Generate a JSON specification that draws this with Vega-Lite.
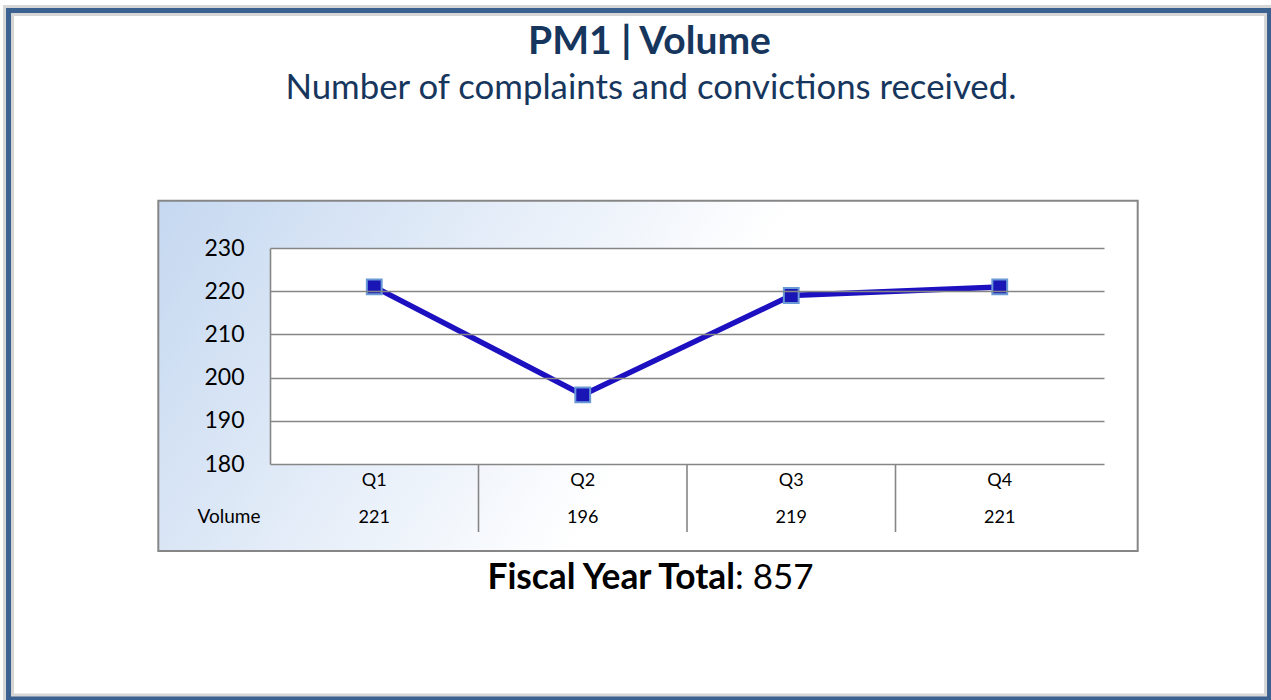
{
  "$schema": "https://vega.github.io/schema/vega-lite/v6.json",
  "width": 834,
  "height": 216,
  "autosize": {"type": "none"},
  "padding": {"left": 270, "top": 248, "right": 167, "bottom": 236},
  "background": "#ffffff",
  "config": {"view": {"stroke": null}, "font": "Lato"},
  "data": {
    "values": [
      {"quarter": "Q1", "q": 1, "volume": 221},
      {"quarter": "Q2", "q": 2, "volume": 196},
      {"quarter": "Q3", "q": 3, "volume": 219},
      {"quarter": "Q4", "q": 4, "volume": 221}
    ]
  },
  "layer": [
    {
      "transform": [{"aggregate": [{"op": "count", "as": "n"}]}],
      "mark": {"type": "rect", "fill": "#ffffff", "stroke": "#d6d6d6", "strokeWidth": 11, "clip": false},
      "encoding": {
        "x": {"datum": -0.754, "type": "quantitative", "scale": {"domain": [0.5, 4.5], "nice": false, "zero": false}, "axis": null},
        "x2": {"datum": 5.294},
        "y": {"datum": 284.98, "type": "quantitative", "scale": {"domain": [180, 230], "nice": false, "zero": false},
          "axis": {"values": [180, 190, 200, 210, 220, 230], "grid": true, "gridColor": "#868686", "gridWidth": 1.6,
            "ticks": false, "domain": true, "domainColor": "#868686", "domainWidth": 1.6,
            "labelFontSize": 23, "labelColor": "#000000", "labelFont": "Lato", "labelPadding": 26, "title": null, "zindex": 1}},
        "y2": {"datum": 125.6}
      }
    },
    {
      "transform": [{"aggregate": [{"op": "count", "as": "n"}]}],
      "mark": {"type": "rect", "fill": null, "stroke": "#3a6190", "strokeWidth": 5, "clip": false},
      "encoding": {
        "x": {"datum": -0.754, "type": "quantitative"},
        "x2": {"datum": 5.294},
        "y": {"datum": 284.98, "type": "quantitative"},
        "y2": {"datum": 125.6}
      }
    },
    {
      "transform": [{"aggregate": [{"op": "count", "as": "n"}]}],
      "mark": {"type": "rect", "stroke": "#868686", "strokeWidth": 2, "clip": false,
        "fill": {"gradient": "linear", "x1": 0, "y1": 0, "x2": 0.65, "y2": 0.15,
          "stops": [{"offset": 0, "color": "#c5d8f0"}, {"offset": 0.5, "color": "#e3ecf8"}, {"offset": 0.95, "color": "#ffffff"}]}},
      "encoding": {
        "x": {"datum": -0.0357, "type": "quantitative"},
        "x2": {"datum": 4.6616},
        "y": {"datum": 240.95, "type": "quantitative"},
        "y2": {"datum": 159.86}
      }
    },
    {
      "transform": [{"aggregate": [{"op": "count", "as": "n"}]}],
      "mark": {"type": "rect", "fill": "#ffffff", "clip": false},
      "encoding": {
        "x": {"datum": 0.5, "type": "quantitative"},
        "x2": {"datum": 4.5},
        "y": {"datum": 230, "type": "quantitative"},
        "y2": {"datum": 180}
      }
    },
    {
      "transform": [{"filter": "datum.q >= 2"}],
      "mark": {"type": "rule", "color": "#868686", "strokeWidth": 1.6, "xOffset": -104.25, "clip": false},
      "encoding": {
        "x": {"field": "q", "type": "quantitative"},
        "y": {"datum": 180, "type": "quantitative"},
        "y2": {"datum": 164.26}
      }
    },
    {
      "mark": {"type": "text", "fontSize": 18, "font": "Lato", "color": "#000000", "align": "center", "baseline": "alphabetic", "clip": false},
      "encoding": {
        "x": {"field": "q", "type": "quantitative"},
        "y": {"datum": 174.91, "type": "quantitative"},
        "text": {"field": "quarter"}
      }
    },
    {
      "mark": {"type": "text", "fontSize": 18, "font": "Lato", "color": "#000000", "align": "center", "baseline": "alphabetic", "clip": false},
      "encoding": {
        "x": {"field": "q", "type": "quantitative"},
        "y": {"datum": 166.34, "type": "quantitative"},
        "text": {"field": "volume"}
      }
    },
    {
      "transform": [{"aggregate": [{"op": "count", "as": "n"}]}],
      "mark": {"type": "text", "text": "Volume", "fontSize": 19, "font": "Lato", "color": "#000000", "align": "center", "baseline": "alphabetic", "clip": false},
      "encoding": {
        "x": {"datum": 0.3034, "type": "quantitative"},
        "y": {"datum": 166.34, "type": "quantitative"}
      }
    },
    {
      "mark": {"type": "line", "color": "#1c10c0", "strokeWidth": 5.5, "clip": false},
      "encoding": {
        "x": {"field": "q", "type": "quantitative"},
        "y": {"field": "volume", "type": "quantitative"},
        "order": {"value": 2}
      }
    },
    {
      "mark": {"type": "square", "size": 220, "filled": true, "fill": "#1a16b6", "stroke": "#6a9ad6", "strokeWidth": 2, "opacity": 1, "clip": false},
      "encoding": {
        "x": {"field": "q", "type": "quantitative"},
        "y": {"field": "volume", "type": "quantitative"},
        "order": {"value": 3}
      }
    },
    {
      "transform": [{"aggregate": [{"op": "count", "as": "n"}]}],
      "mark": {"type": "text", "text": "PM1 | Volume", "fontSize": 39, "fontWeight": "bold", "font": "Lato", "color": "#17365d", "align": "center", "baseline": "alphabetic", "clip": false},
      "encoding": {
        "x": {"datum": 2.32, "type": "quantitative"},
        "y": {"datum": 274.9, "type": "quantitative"}
      }
    },
    {
      "transform": [{"aggregate": [{"op": "count", "as": "n"}]}],
      "mark": {"type": "text", "text": "Number of complaints and convictions received.", "fontSize": 34.8, "font": "Lato", "color": "#17365d", "align": "center", "baseline": "alphabetic", "clip": false},
      "encoding": {
        "x": {"datum": 2.327, "type": "quantitative"},
        "y": {"datum": 264.4, "type": "quantitative"}
      }
    },
    {
      "transform": [{"aggregate": [{"op": "count", "as": "n"}]}],
      "mark": {"type": "text", "text": "Fiscal Year Total", "fontSize": 35.3, "fontWeight": "bold", "font": "Lato", "color": "#000000", "align": "right", "baseline": "alphabetic", "clip": false},
      "encoding": {
        "x": {"datum": 2.73, "type": "quantitative"},
        "y": {"datum": 151.0, "type": "quantitative"}
      }
    },
    {
      "transform": [
        {"aggregate": [{"op": "sum", "field": "volume", "as": "total"}]},
        {"calculate": "': ' + datum.total", "as": "label"}
      ],
      "mark": {"type": "text", "fontSize": 35, "font": "Lato", "color": "#000000", "align": "left", "baseline": "alphabetic", "clip": false},
      "encoding": {
        "x": {"datum": 2.73, "type": "quantitative"},
        "y": {"datum": 151.0, "type": "quantitative"},
        "text": {"field": "label"}
      }
    }
  ]
}
